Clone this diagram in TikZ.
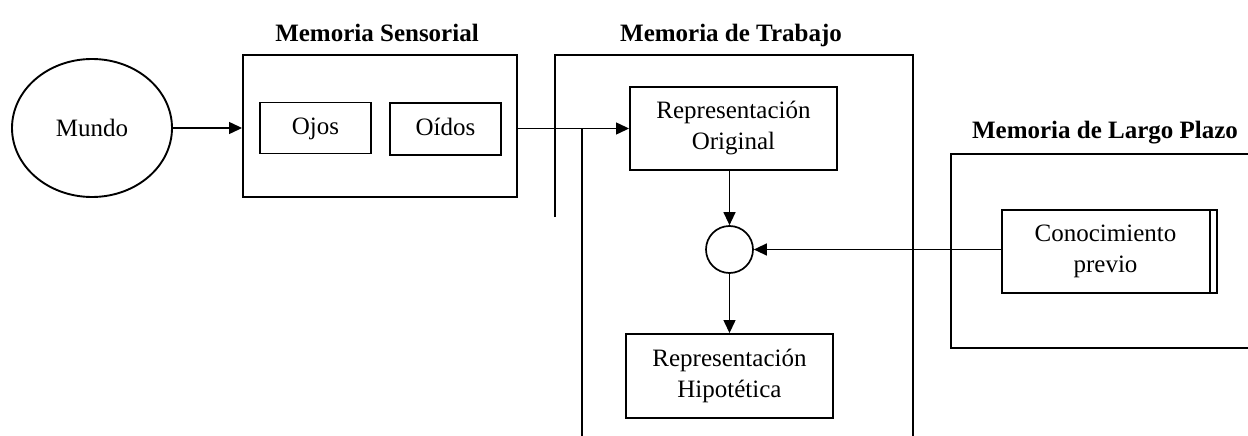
\documentclass[tikz,border=0pt]{standalone}
\usepackage{fontspec}
\setmainfont{Liberation Serif}
\usetikzlibrary{arrows.meta,shapes.geometric,calc}
\begin{document}
\begin{tikzpicture}[x=1pt,y=-1pt,
  box/.style={draw,line width=1.9pt,align=center,inner sep=0pt,font=\fontsize{25}{31}\selectfont},
  frame/.style={line width=1.9pt},
  arr/.style={line width=1.3pt,-{Triangle[length=13pt,width=12pt]}},
  ttl/.style={anchor=base,font=\fontsize{25}{30}\selectfont\bfseries,inner sep=0pt}]
\useasboundingbox (0,0) rectangle (1248,436);
% titles
\node[ttl] (tsens) at (377,42) {Memoria Sensorial};
\node[ttl] (ttrab) at (731,42) {Memoria de Trabajo};
\node[ttl] (tlarg) at (1105,138) {Memoria de Largo Plazo};
% sensory memory
\node[box,minimum width=274pt,minimum height=142pt] (sens) at (380,126) {};
\node[box,minimum width=111pt,minimum height=51pt,text height=17pt,text depth=5pt] (ojos) at (315.5,128) {Ojos};
\node[box,minimum width=111pt,minimum height=52pt,text height=17pt,text depth=5pt] (oidos) at (445.5,129) {Oídos};
% world
\node[box,ellipse,minimum width=160pt,minimum height=138pt] (mundo) at (92,128) {Mundo};
% working memory frame
\coordinate (w1) at (555,217);
\coordinate (w2) at (555,55);
\coordinate (w3) at (913,55);
\coordinate (w4) at (913,440);
\coordinate (w5) at (582,129);
\coordinate (w6) at (582,440);
\draw[frame] (w1) -- (w2) -- (w3) -- (w4);
\draw[frame] (w5) -- (w6);
\node[box,minimum width=207pt,minimum height=83pt] (ro) at (733.5,128.5) {Representación\\Original};
\node[box,circle,minimum size=47pt,line width=1.7pt] (circ) at (729.5,249.5) {};
\node[box,minimum width=207pt,minimum height=84pt] (rh) at (729.5,376) {Representación\\Hipotética};
% long term memory frame
\coordinate (l1) at (1252,154);
\coordinate (l2) at (951,154);
\coordinate (l3) at (951,348);
\coordinate (l4) at (1252,348);
\draw[frame] (l1) -- (l2) -- (l3) -- (l4);
\node[box,minimum width=215pt,minimum height=83pt,text width=207pt] (ck) at (1109.5,251.5) {\hspace*{-8pt}Conocimiento\\\hspace*{-8pt}previo};
\draw[line width=1.5pt] ([xshift=-8pt]ck.north east) -- ([xshift=-8pt]ck.south east);
% connectors
\draw[arr] (mundo.east) -- (sens.west |- mundo.east);
\draw[arr] (sens.east |- ro.west) -- (ro.west);
\draw[arr] (ro.south -| circ.north) -- (circ.north);
\draw[arr] (circ.south) -- (rh.north -| circ.south);
\draw[arr] (ck.west |- circ.east) -- (circ.east);
\end{tikzpicture}
\end{document}
